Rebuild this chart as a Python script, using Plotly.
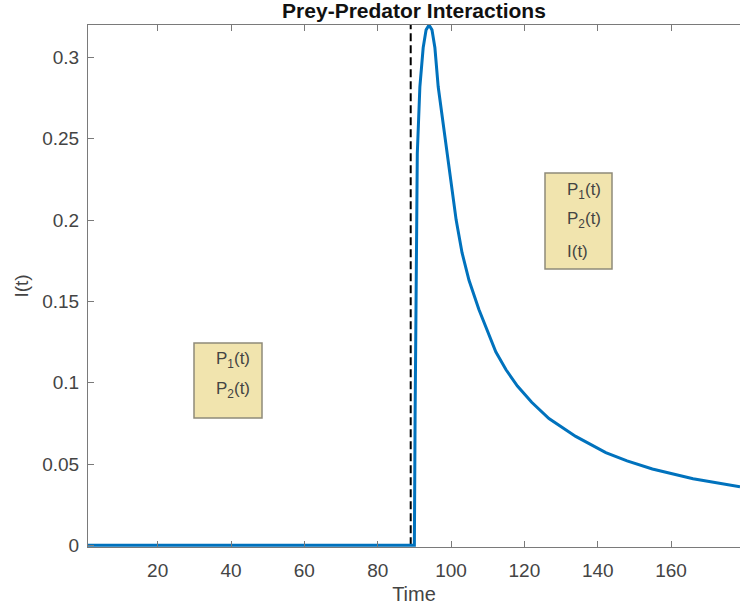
import plotly.graph_objects as go

# ---- data ----
time = [1, 90.0, 90.2, 90.4, 90.8, 91.5, 92.4, 93.2, 94.0, 94.8, 95.6, 96.5, 97.7, 99.0,
        100.2, 101.4, 103.0, 104.9, 107.6, 110.0, 112.2, 115.0, 118.1, 122.0, 126.7,
        134.0, 142.2, 148.0, 154.9, 166.0, 178.8]
infected = [0, 0, 0.080, 0.159, 0.241, 0.282, 0.306, 0.317, 0.320, 0.317, 0.306, 0.282,
            0.262, 0.241, 0.220, 0.200, 0.180, 0.163, 0.145, 0.131, 0.119, 0.108, 0.098,
            0.088, 0.078, 0.067, 0.057, 0.052, 0.047, 0.041, 0.036]
switch_time = 89.0
x_ticks = [20, 40, 60, 80, 100, 120, 140, 160]
y_ticks = [0, 0.05, 0.1, 0.15, 0.2, 0.25, 0.3]
y_tick_text = ["0", "0.05", "0.1", "0.15", "0.2", "0.25", "0.3"]
legend_left = ["P<sub>1</sub>(t)", "P<sub>2</sub>(t)"]
legend_right = ["P<sub>1</sub>(t)", "P<sub>2</sub>(t)", "I(t)"]
x_range = [1, 178.8]
y_range = [-0.001, 0.32]

# ---- layout geometry (pixels) ----
W, H = 740, 615
ML, MR, MT, MB = 88, 0, 25, 68
PW, PH = W - ML - MR, H - MT - MB


def px(x):
    return (x - ML) / PW


def py(y):
    return (H - MB - y) / PH


FONT = "Liberation Sans, Arial, Helvetica, sans-serif"
AXIS_COLOR = "#7a7a7a"
TEXT_COLOR = "#444444"
BOX_FILL = "#F1E4AE"
BOX_LINE = "#8E8A7A"

fig = go.Figure()

fig.add_trace(go.Scatter(
    x=[switch_time, switch_time], y=[0, y_range[1]], mode="lines",
    line=dict(color="black", width=2, dash="8px,4px"),
    showlegend=False, hoverinfo="skip"))

fig.add_trace(go.Scatter(
    x=time, y=infected, mode="lines",
    line=dict(color="#0072BD", width=3),
    showlegend=False))

shapes = []
annotations = []

# legend-like boxes
boxes = [
    ((194, 343, 262, 418), legend_left, [360, 390]),
    ((545, 173, 612, 269), legend_right, [191, 220, 251]),
]
for (x0, y0, x1, y1), labels, ys in boxes:
    shapes.append(dict(type="rect", xref="paper", yref="paper",
                       x0=px(x0), x1=px(x1), y0=py(y1), y1=py(y0),
                       fillcolor=BOX_FILL, line=dict(color=BOX_LINE, width=1.5),
                       layer="above"))
    for lab, yy in zip(labels, ys):
        annotations.append(dict(text=lab, xref="paper", yref="paper",
                                x=px(x0 + 20), y=py(yy), xanchor="left", yanchor="middle",
                                showarrow=False, font=dict(family=FONT, size=17, color=TEXT_COLOR)))

fig.update_layout(
    width=W, height=H,
    margin=dict(l=ML, r=MR, t=MT, b=MB),
    paper_bgcolor="white", plot_bgcolor="white",
    font=dict(family=FONT, color=TEXT_COLOR),
    title=dict(text="<b>Prey-Predator Interactions</b>", x=0.5, xref="paper",
               y=1 - 11 / H, yref="container", xanchor="center", yanchor="middle",
               font=dict(family=FONT, size=21, color="#111111")),
    xaxis=dict(range=x_range, tickvals=x_ticks, ticks="inside", ticklen=6,
               tickcolor=AXIS_COLOR, showline=True, linecolor=AXIS_COLOR, linewidth=1,
               mirror="ticks", showgrid=False, zeroline=False,
               tickfont=dict(family=FONT, size=19, color=TEXT_COLOR),
               ticklabelstandoff=6,
               title=dict(text="Time", standoff=7,
                          font=dict(family=FONT, size=20, color=TEXT_COLOR))),
    yaxis=dict(range=y_range, tickvals=y_ticks, ticktext=y_tick_text, ticks="inside",
               ticklen=6, tickcolor=AXIS_COLOR, showline=True, linecolor=AXIS_COLOR,
               linewidth=1, showgrid=False, zeroline=False,
               tickfont=dict(family=FONT, size=19, color=TEXT_COLOR),
               ticklabelstandoff=4,
               title=dict(text="I(t)", standoff=8,
                          font=dict(family=FONT, size=19, color=TEXT_COLOR))),
    shapes=shapes,
    annotations=annotations,
)

fig.write_html("out.html")
